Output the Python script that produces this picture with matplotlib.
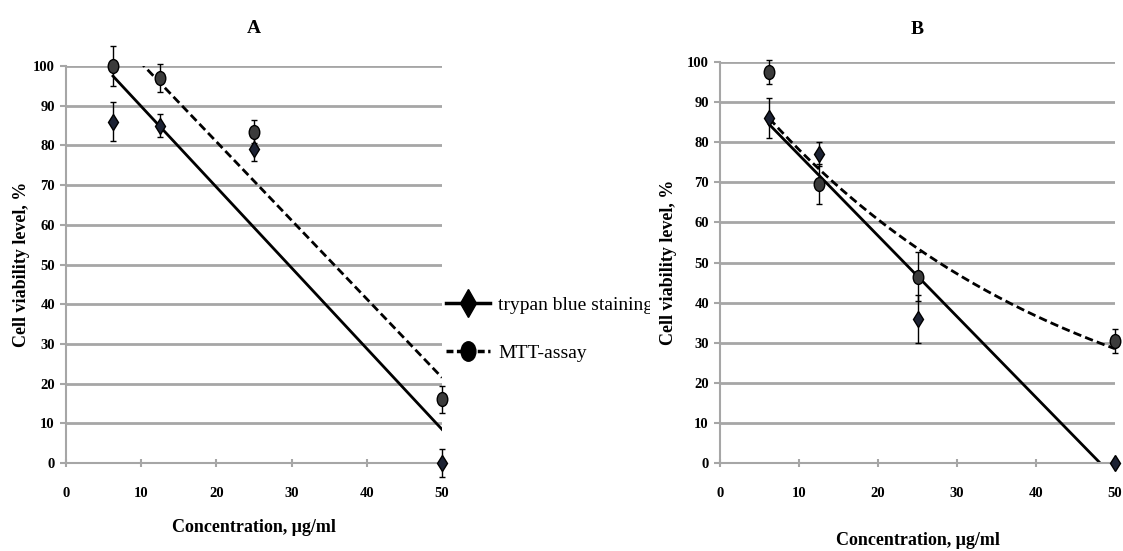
import matplotlib.pyplot as plt
import numpy as np
from matplotlib.path import Path
from matplotlib.patches import Rectangle
from matplotlib.lines import Line2D
import matplotlib.transforms as mtransforms

plt.rcParams['font.family'] = ['Liberation Serif', 'DejaVu Serif']

# concentrations, ug/ml
conc = [6.25, 12.5, 25, 50]

# panel A
trypan_a = [86, 85, 79, 0]
trypan_a_err = [5, 3, 3, 3.5]
mtt_a = [100, 97, 83.5, 16]
mtt_a_err = [5, 3.5, 3, 3.5]

# panel B
trypan_b = [86, 77, 36, 0]
trypan_b_err = [5, 3, 6, 0.5]
mtt_b = [97.5, 69.5, 46.5, 30.5]
mtt_b_err = [3, 5, 6, 3]

grid_col = '#a6a6a6'
diamond_col = '#1c2233'
circle_col = '#3b3b3b'

# slightly tall ellipse marker
ellipse = Path.unit_circle().transformed(mtransforms.Affine2D().scale(0.76, 1.0))

fig = plt.figure(figsize=(11.23, 5.51), dpi=100)
ax_a = fig.add_axes([66 / 1123, 88 / 551, 376 / 1123, 397 / 551])
ax_b = fig.add_axes([720 / 1123, 88 / 551, 395 / 1123, 401 / 551])
ax_b.set_zorder(2)

# white sheet behind panel B that cuts off the legend text
fig.patches.append(Rectangle((650 / 1123, 0), 1, 1, transform=fig.transFigure,
                             facecolor='white', edgecolor='none', zorder=1))


def style(ax, label_x):
    ax.set_xlim(0, 50)
    ax.set_ylim(0, 100)
    ax.set_xticks(range(0, 51, 10))
    ax.set_yticks(range(0, 101, 10))
    ax.yaxis.grid(True, color=grid_col, linewidth=2)
    ax.set_axisbelow(True)
    for s in ['top', 'right']:
        ax.spines[s].set_visible(False)
    for s in ['left', 'bottom']:
        ax.spines[s].set_color(grid_col)
        ax.spines[s].set_linewidth(1.5)
    ax.tick_params(axis='both', colors=grid_col, length=4, width=1.5,
                   labelcolor='black', labelsize=10.5, pad=4)
    ax.tick_params(axis='x', direction='inout', length=6, pad=14)
    for lab in ax.get_xticklabels() + ax.get_yticklabels():
        lab.set_fontweight('bold')
    ax.set_ylabel('Cell viability level, %', fontsize=13, fontweight='bold')
    ax.yaxis.set_label_coords(label_x, 0.5)


def points(ax, y, yerr, marker, color, ms):
    ax.errorbar(conc, y, yerr=yerr, fmt='none', ecolor='black', elinewidth=1,
                capsize=2, capthick=1, zorder=3, clip_on=False)
    ax.plot(conc, y, linestyle='none', marker=marker, color=color,
            markeredgecolor='black', markersize=ms, zorder=4, clip_on=False)


xs = np.linspace(conc[0], conc[-1], 200)

# A: linear trendlines
style(ax_a, -0.096)
k, b = np.polyfit(conc, trypan_a, 1)
ax_a.plot(xs, k * xs + b, color='black', linewidth=2, zorder=2)
k, b = np.polyfit(conc, mtt_a, 1)
ax_a.plot(xs, k * xs + b, color='black', linewidth=2, linestyle=(0, (3, 1.5)), zorder=2)
points(ax_a, trypan_a, trypan_a_err, 'd', diamond_col, 8.5)
points(ax_a, mtt_a, mtt_a_err, ellipse, circle_col, 10)
ax_a.set_xlabel('Concentration, \u03bcg/ml', fontsize=13, fontweight='bold', labelpad=14)
ax_a.set_title('A', fontsize=14, fontweight='bold', pad=24)

# B: linear (trypan) and exponential (MTT) trendlines
style(ax_b, -0.108)
k, b = np.polyfit(conc, trypan_b, 1)
ax_b.plot(xs, k * xs + b, color='black', linewidth=2, zorder=2)
k, b = np.polyfit(conc, np.log(mtt_b), 1)
ax_b.plot(xs, np.exp(b + k * xs), color='black', linewidth=2, linestyle=(0, (3, 1.5)), zorder=2)
points(ax_b, trypan_b, trypan_b_err, 'd', diamond_col, 8.5)
points(ax_b, mtt_b, mtt_b_err, ellipse, circle_col, 10)
ax_b.set_xlabel('Concentration, \u03bcg/ml', fontsize=13, fontweight='bold', labelpad=23)
ax_b.set_title('B', fontsize=14, fontweight='bold', pad=20)

handles = [
    Line2D([], [], color='black', linewidth=2.5, marker='d', markersize=14,
           markerfacecolor='black', markeredgecolor='black'),
    Line2D([], [], color='black', linewidth=2.5, linestyle=(0, (2, 1)), marker=ellipse,
           markersize=14, markerfacecolor='black', markeredgecolor='black'),
]
leg = ax_a.legend(handles, ['trypan blue staining', 'MTT-assay'], loc='center left',
                  bbox_to_anchor=(428 / 1123, 1 - 329 / 551), bbox_transform=fig.transFigure,
                  frameon=False, fontsize=14, handlelength=2.3, labelspacing=1.55,
                  handletextpad=0.4)
leg.set_zorder(0.5)

fig.savefig('out.png', dpi=100)
